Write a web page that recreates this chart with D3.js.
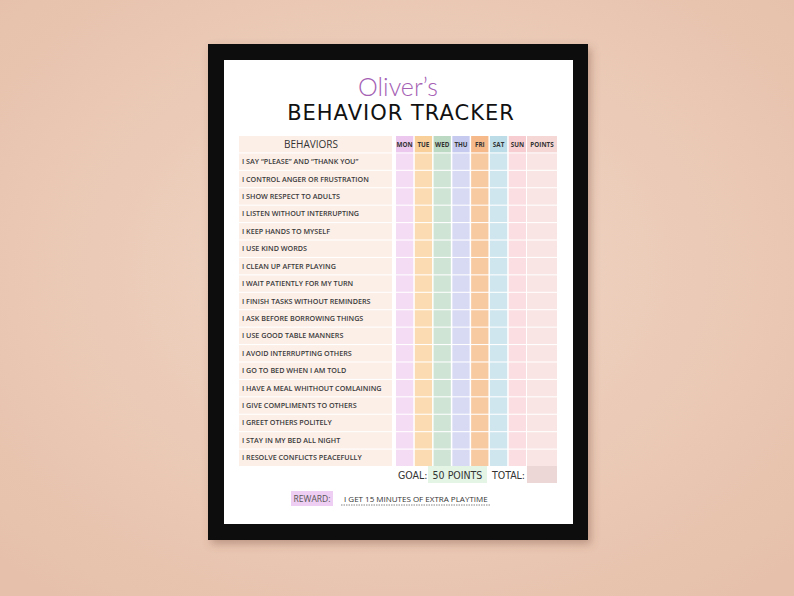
<!DOCTYPE html>
<html><head><meta charset="utf-8">
<script src="https://cdn.jsdelivr.net/npm/d3@7"></script>
<style>body{margin:0;overflow:hidden}</style>
</head><body>
<script>
const name = "Oliver’s";
const title = "BEHAVIOR TRACKER";
const behaviors = ["I SAY “PLEASE” AND “THANK YOU”","I CONTROL ANGER OR FRUSTRATION","I SHOW RESPECT TO ADULTS","I LISTEN WITHOUT INTERRUPTING","I KEEP HANDS TO MYSELF","I USE KIND WORDS","I CLEAN UP AFTER PLAYING","I WAIT PATIENTLY FOR MY TURN","I FINISH TASKS WITHOUT REMINDERS","I ASK BEFORE BORROWING THINGS","I USE GOOD TABLE MANNERS","I AVOID INTERRUPTING OTHERS","I GO TO BED WHEN I AM TOLD","I HAVE A MEAL WHITHOUT COMLAINING","I GIVE COMPLIMENTS TO OTHERS","I GREET OTHERS POLITELY","I STAY IN MY BED ALL NIGHT","I RESOLVE CONFLICTS PEACEFULLY"];
const days = ["MON","TUE","WED","THU","FRI","SAT","SUN"];
const dayColors = ["#f4ddf4","#fbdcb2","#d0e4d6","#d8daf4","#f8caa2","#d0e6ee","#fbdee1"];
const dayHeadColors = ["#ecc8ee","#f9cf9a","#bcd9c4","#c6caef","#f5b98a","#bcdde8","#f8cdd2"];
const goalText = "50 POINTS";
const rewardText = "I GET  15 MINUTES OF EXTRA PLAYTIME";

const W=794,H=596;
const svg=d3.select("body").append("svg").attr("width",W).attr("height",H);
const defs=svg.append("defs");
const g=defs.append("radialGradient").attr("id","wall").attr("cx","50%").attr("cy","45%").attr("r","70%");
g.append("stop").attr("offset","0%").attr("stop-color","#f1d7c7");
g.append("stop").attr("offset","100%").attr("stop-color","#e6c0aa");
svg.append("rect").attr("width",W).attr("height",H).attr("fill","url(#wall)");
const sh=defs.append("filter").attr("id","sh").attr("x","-10%").attr("y","-10%").attr("width","130%").attr("height","130%");
sh.append("feDropShadow").attr("dx",3).attr("dy",4).attr("stdDeviation",4).attr("flood-color","#7a5040").attr("flood-opacity",0.4);
svg.append("rect").attr("x",208).attr("y",44).attr("width",380).attr("height",496).attr("fill","#111").attr("filter","url(#sh)");
svg.append("rect").attr("x",224).attr("y",60).attr("width",349).attr("height",464).attr("fill","#fff");

svg.append("text").attr("x",398).attr("y",96).attr("text-anchor","middle").attr("font-family","Lato, sans-serif").attr("font-weight",300).attr("font-size",25).attr("fill","#a561b4").text(name);
svg.append("text").attr("x",401).attr("y",120).attr("text-anchor","middle").attr("font-family","'DejaVu Sans', sans-serif").attr("font-size",21).attr("letter-spacing",1).attr("fill","#111").text(title);

const y=d3.scaleBand().domain(["head",...behaviors]).range([136,466]).paddingInner(0.06);
const x=d3.scaleBand().domain(days).range([396,526]).paddingInner(0.08);
const colX=c=>c==="POINTS_"?527:x(c);
const colW=c=>c==="POINTS_"?30:x.bandwidth();
const font="'Open Sans', sans-serif";

svg.selectAll(".bh").data(["head",...behaviors]).join("rect").attr("x",239).attr("y",d=>y(d)).attr("width",153).attr("height",y.bandwidth()).attr("fill","#fcefe8");
svg.append("text").attr("x",311).attr("y",y("head")+y.bandwidth()/2+3.5).attr("text-anchor","middle").attr("font-family",font).attr("font-size",10).attr("fill","#333").text("BEHAVIORS");
svg.selectAll(".bt").data(behaviors).join("text").attr("x",242).attr("y",d=>y(d)+y.bandwidth()/2+2.5).attr("font-family",font).attr("font-size",7.2).attr("font-weight",600).attr("fill","#3a3a3a").text(d=>d);

const cols=[...days,"POINTS_"];
cols.forEach((c,i)=>{
  const body=i<7?dayColors[i]:"#f9e6e4", head=i<7?dayHeadColors[i]:"#f5d8d6";
  svg.selectAll(".c"+i).data(["head",...behaviors]).join("rect").attr("x",colX(c)).attr("y",d=>y(d)).attr("width",colW(c)).attr("height",y.bandwidth()).attr("fill",d=>d==="head"?head:body);
  svg.append("text").attr("x",colX(c)+colW(c)/2).attr("y",y("head")+y.bandwidth()/2+2.5).attr("text-anchor","middle").attr("font-family",font).attr("font-weight",700).attr("font-size",6.3).attr("fill","#333").text(c==="POINTS_"?"POINTS":c);
});

const gf="'DejaVu Sans Condensed', 'DejaVu Sans', sans-serif";
svg.append("text").attr("x",398).attr("y",479).attr("font-family",gf).attr("font-size",10.5).attr("fill","#333").text("GOAL:");
svg.append("rect").attr("x",428).attr("y",466).attr("width",59).attr("height",17).attr("fill","#e4f5e6");
svg.append("text").attr("x",457.5).attr("y",479).attr("text-anchor","middle").attr("font-family",gf).attr("font-size",10.5).attr("fill","#333").text(goalText);
svg.append("text").attr("x",492).attr("y",479).attr("font-family",gf).attr("font-size",10.5).attr("fill","#333").text("TOTAL:");
svg.append("rect").attr("x",527).attr("y",466).attr("width",30).attr("height",17).attr("fill","#edd6d6");

svg.append("rect").attr("x",291).attr("y",491).attr("width",42).attr("height",15).attr("fill","#eecef2");
svg.append("text").attr("x",312).attr("y",502).attr("text-anchor","middle").attr("font-family",font).attr("font-size",8.5).attr("fill","#555").text("REWARD:");
svg.append("text").attr("x",344).attr("y",502).attr("font-family",font).attr("font-size",8).attr("fill","#333").text(rewardText);
svg.append("line").attr("x1",341).attr("x2",491).attr("y1",505).attr("y2",505).attr("stroke","#666").attr("stroke-width",0.8).attr("stroke-dasharray","1.5,1");
</script>
</body></html>
